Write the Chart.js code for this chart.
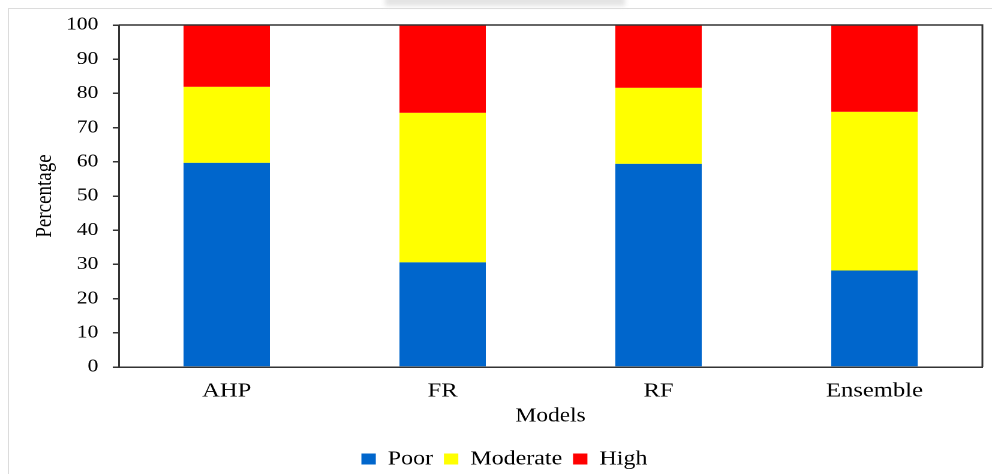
<!DOCTYPE html>
<html>
<head>
<meta charset="utf-8">
<script src="https://cdn.jsdelivr.net/npm/chart.js@4/dist/chart.umd.min.js"></script>
<style>
  html, body { margin: 0; padding: 0; width: 992px; height: 474px; overflow: hidden; background: #fff; }
  #frame { position: absolute; left: 8px; top: 8px; width: 1000px; height: 480px; border-left: 1px solid #dcdcdc; border-top: 1px solid #dcdcdc; }
  #smudge { position: absolute; left: 385px; top: -4px; width: 240px; height: 10px; background: #e4e4e4; filter: blur(2px); }
  #wrap { position: absolute; left: 0; top: 0; width: 827px; height: 479px; transform: scaleX(1.1995); transform-origin: 0 0; }
</style>
</head>
<body>
<div id="frame"></div>
<div id="smudge"></div>
<div id="wrap"><canvas id="c" width="827" height="479"></canvas></div>
<script>
// Share of each susceptibility class per model (%)
const models = ['AHP', 'FR', 'RF', 'Ensemble'];
const poor = [59.7, 30.6, 59.4, 28.2];
const moderate = [22.2, 43.7, 22.2, 46.4];
const high = [18.1, 25.7, 18.4, 25.4];

const serif = "'Liberation Serif', 'Times New Roman', serif";
const axisColor = '#333333';

// Closes the plot box with top and right edges
const plotFrame = {
  id: 'plotFrame',
  afterDatasetsDraw(chart) {
    const { ctx, chartArea: a } = chart;
    ctx.save();
    ctx.strokeStyle = axisColor;
    ctx.lineWidth = 1.5;
    ctx.beginPath();
    ctx.moveTo(a.left, a.top);
    ctx.lineTo(a.right, a.top);
    ctx.lineTo(a.right, a.bottom);
    ctx.stroke();
    ctx.restore();
  }
};

new Chart(document.getElementById('c'), {
  type: 'bar',
  data: {
    labels: models,
    datasets: [
      { label: 'Poor', data: poor, backgroundColor: '#0066CC' },
      { label: 'Moderate', data: moderate, backgroundColor: '#FFFF00' },
      { label: 'High', data: high, backgroundColor: '#FF0000' }
    ]
  },
  options: {
    responsive: false,
    devicePixelRatio: 2,
    animation: false,
    datasets: { bar: { barPercentage: 0.4, categoryPercentage: 1, borderWidth: 0 } },
    layout: { padding: { left: 22, right: 8, top: 25, bottom: 0 } },
    plugins: {
      tooltip: { enabled: false },
      legend: {
        position: 'bottom',
        labels: {
          boxWidth: 12,
          boxHeight: 11,
          padding: 9,
          color: '#000',
          font: { family: serif, size: 20 }
        }
      }
    },
    scales: {
      x: {
        stacked: true,
        grid: { display: false, drawTicks: false },
        border: { display: true, color: axisColor, width: 1.5 },
        ticks: { color: '#000', padding: 12, font: { family: serif, size: 20.5 } },
        title: {
          display: true, text: 'Models', color: '#000',
          padding: { top: 0, bottom: 12 },
          font: { family: serif, size: 19.5 }
        },
        afterFit(scale) { scale.height = 73; }
      },
      y: {
        stacked: true,
        min: 0,
        max: 100,
        grid: { display: true, drawOnChartArea: false, drawTicks: true, tickLength: 5, color: axisColor, lineWidth: 1.5 },
        border: { display: true, color: axisColor, width: 1.5 },
        ticks: { stepSize: 10, color: '#000', padding: 12, font: { family: serif, size: 18 } },
        title: {
          display: true, text: 'Percentage', color: '#000',
          padding: { top: 4, bottom: 0 },
          font: { family: serif, size: 19 }
        },
        afterFit(scale) { scale.width = 77; }
      }
    }
  },
  plugins: [plotFrame]
});
</script>
</body>
</html>
